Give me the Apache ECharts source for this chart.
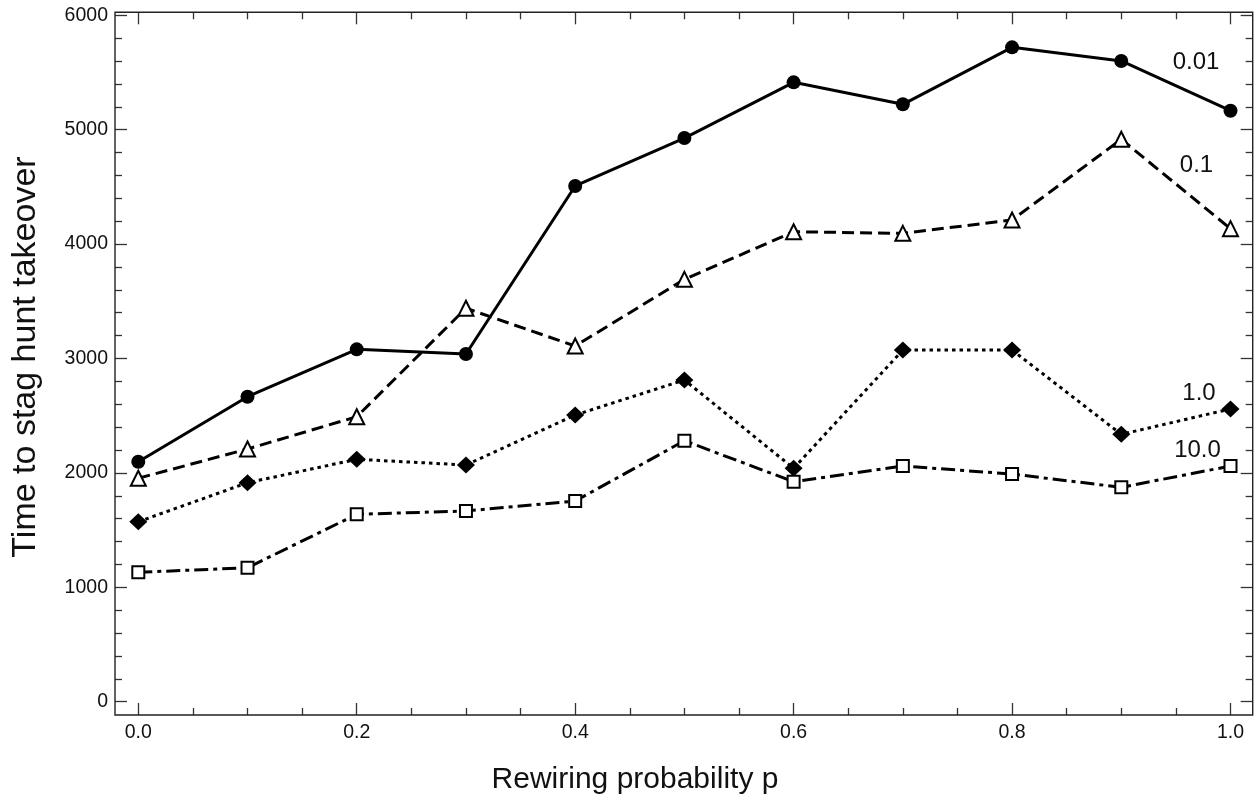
<!DOCTYPE html>
<html>
<head>
<meta charset="utf-8">
<script src="https://cdn.jsdelivr.net/npm/echarts@6/dist/echarts.min.js"></script>
<style>
html,body{margin:0;padding:0;background:#fff;}
#chart{width:1256px;height:799px;}
</style>
</head>
<body>
<div id="chart"></div>
<script>
const pValues = [0.0, 0.1, 0.2, 0.3, 0.4, 0.5, 0.6, 0.7, 0.8, 0.9, 1.0];
const series001 = [2098, 2666, 3080, 3039, 4508, 4927, 5414, 5222, 5720, 5601, 5166];
const series01  = [1953, 2209, 2491, 3439, 3109, 3692, 4108, 4094, 4211, 4916, 4135];
const series1   = [1573, 1914, 2119, 2069, 2506, 2812, 2040, 3074, 3074, 2337, 2559];
const series10  = [1131, 1171, 1638, 1667, 1754, 2281, 1923, 2060, 1990, 1874, 2060];
const seriesNames = ['0.01', '0.1', '1.0', '10.0'];
const xTitle = 'Rewiring probability p';
const yTitle = 'Time to stag hunt takeover';

const pair = arr => pValues.map((p, i) => [p, arr[i]]);
const FONT = '"Liberation Sans", Arial, sans-serif';
const tickColor = '#333';

const chart = echarts.init(document.getElementById('chart'), null, {renderer: 'canvas'});

function xAx(pos, offset, showLabel) {
  return {
    type: 'value', position: pos, min: 0, max: 1, interval: 0.2, offset: offset,
    axisLine: {show: false, onZero: false},
    axisTick: {show: true, inside: true, length: 12, lineStyle: {color: tickColor, width: 1.3}},
    minorTick: {show: true, splitNumber: 4, length: 7, lineStyle: {color: tickColor, width: 1.3}},
    splitLine: {show: false}, minorSplitLine: {show: false},
    axisLabel: {show: showLabel, margin: 8, fontSize: 19.5, fontFamily: FONT, color: '#111',
      formatter: v => v.toFixed(1)}
  };
}
function yAx(pos, offset, showLabel) {
  return {
    type: 'value', position: pos, min: 0, max: 6000, interval: 1000, offset: offset,
    axisLine: {show: false, onZero: false},
    axisTick: {show: true, inside: true, length: 12, lineStyle: {color: tickColor, width: 1.3}},
    minorTick: {show: true, splitNumber: 5, length: 7, lineStyle: {color: tickColor, width: 1.3}},
    splitLine: {show: false}, minorSplitLine: {show: false},
    axisLabel: {show: showLabel, margin: 7, fontSize: 19.5, fontFamily: FONT, color: '#111',
      formatter: v => String(v)}
  };
}

const lineBase = (name, data, lineType, symbol, size, filled) => ({
  name: name, type: 'line', data: pair(data), xAxisIndex: 0, yAxisIndex: 0,
  clip: false, z: 3,
  lineStyle: {color: '#000', width: 3, type: lineType, cap: 'butt'},
  symbol: symbol, symbolSize: size, showAllSymbol: true,
  itemStyle: filled ? {color: '#000', borderColor: '#000', borderWidth: 0}
                    : {color: '#fff', borderColor: '#000', borderWidth: 2},
  emphasis: {disabled: true}, animation: false
});

const option = {
  animation: false,
  backgroundColor: '#fff',
  grid: {left: 138.3, right: 25.5, top: 15.3, bottom: 97.3, containLabel: false},
  xAxis: [xAx('bottom', 13.3, true), xAx('top', 3, false)],
  yAxis: [yAx('left', 23.3, true), yAx('right', 22.2, false)],
  series: [
    lineBase(seriesNames[0], series001, 'solid', 'circle', 14, true),
    lineBase(seriesNames[1], series01, [12, 6], 'triangle', 15, false),
    lineBase(seriesNames[2], series1, [3.5, 4], 'diamond', [18, 17], true),
    lineBase(seriesNames[3], series10, [14, 5, 4, 5], 'rect', 12, false)
  ],
  graphic: [
    {type: 'rect', shape: {x: 115, y: 12.3, width: 1137.7, height: 702.7}, silent: true, z: 10,
      style: {fill: 'none', stroke: '#222', lineWidth: 1.4}},
    {type: 'text', x: 635, y: 780, z: 10, style: {text: xTitle, font: '30px ' + FONT, fill: '#111', textAlign: 'center', textVerticalAlign: 'middle'}},
    {type: 'text', x: 26, y: 357, rotation: Math.PI / 2, z: 10, style: {text: yTitle, font: '34px ' + FONT, fill: '#111', textAlign: 'center', textVerticalAlign: 'middle'}},
    {type: 'text', x: 1196, y: 62, z: 10, style: {text: seriesNames[0], font: '24px ' + FONT, fill: '#111', textAlign: 'center', textVerticalAlign: 'middle'}},
    {type: 'text', x: 1196.5, y: 165, z: 10, style: {text: seriesNames[1], font: '24px ' + FONT, fill: '#111', textAlign: 'center', textVerticalAlign: 'middle'}},
    {type: 'text', x: 1199, y: 393.5, z: 10, style: {text: seriesNames[2], font: '24px ' + FONT, fill: '#111', textAlign: 'center', textVerticalAlign: 'middle'}},
    {type: 'text', x: 1197.5, y: 450.5, z: 10, style: {text: seriesNames[3], font: '24px ' + FONT, fill: '#111', textAlign: 'center', textVerticalAlign: 'middle'}}
  ]
};
chart.setOption(option);
</script>
</body>
</html>
